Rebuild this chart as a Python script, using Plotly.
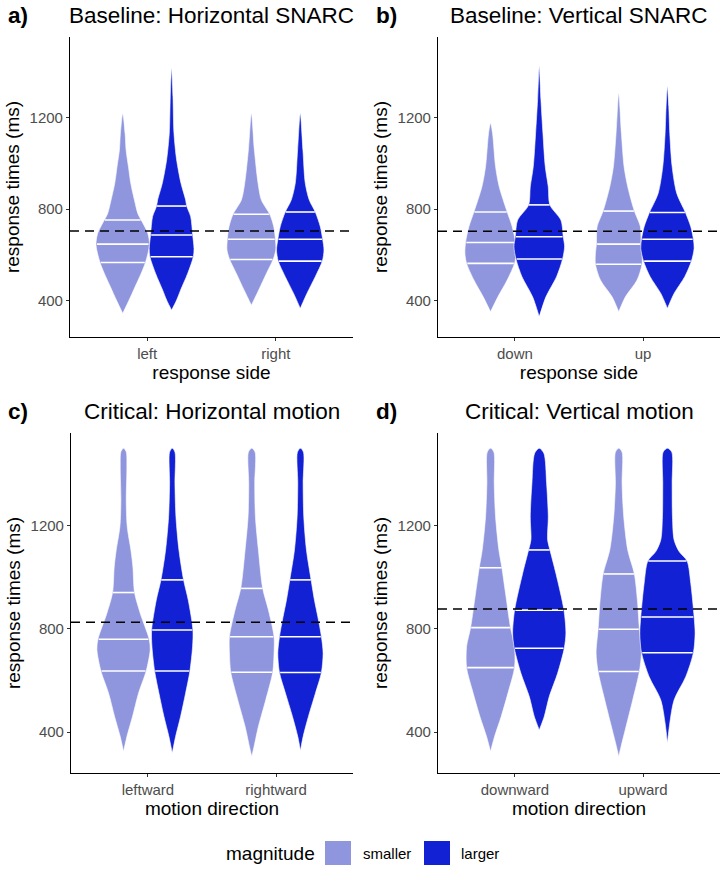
import numpy as np
import plotly.graph_objects as go

# ---------------- data ----------------
panel_titles = ["Baseline: Horizontal SNARC", "Baseline: Vertical SNARC",
                "Critical: Horizontal motion", "Critical: Vertical motion"]
panel_letters = ["a)", "b)", "c)", "d)"]
x_tick_labels = [["left", "right"], ["down", "up"],
                 ["leftward", "rightward"], ["downward", "upward"]]
x_titles = ["response side", "response side", "motion direction", "motion direction"]
y_title = "response times (ms)"
y_ticks = [400, 800, 1200]
reference_rt = [704, 703, 826, 877]
magnitudes = ["smaller", "larger"]

# violin outlines: response time (ms) and relative density (half width)
a1_small_rt = [1217, 1130, 1057, 985, 912, 839, 781, 752, 694, 643, 567, 519, 461, 403, 345]
a1_small_dn = [0, 7, 10, 17, 24, 35, 45, 55, 75, 80, 68, 55, 37, 19, 0]
a1_large_rt = [1414, 1290, 1130, 1014, 912, 839, 813, 767, 687, 628, 592, 519, 447, 403, 359]
a1_large_dn = [0, 4, 7, 15, 28, 42, 45, 57, 63, 67, 65, 48, 27, 15, 0]
a2_small_rt = [1217, 1057, 912, 839, 777, 723, 668, 621, 580, 519, 447, 381]
a2_small_dn = [0, 9, 20, 30, 55, 67, 72, 73, 65, 45, 22, 0]
a2_large_rt = [1217, 1057, 912, 839, 787, 723, 668, 621, 573, 505, 432, 367]
a2_large_dn = [0, 8, 15, 27, 45, 60, 67, 71, 66, 45, 20, 0]

b1_small_rt = [1174, 1130, 985, 897, 787, 723, 655, 607, 563, 490, 417, 352]
b1_small_dn = [0, 6, 15, 26, 50, 65, 75, 77, 72, 50, 22, 0]
b1_large_rt = [1421, 1276, 1130, 985, 897, 817, 752, 679, 636, 582, 505, 417, 330]
b1_large_dn = [0, 5, 11, 18, 27, 32, 65, 72, 76, 70, 52, 20, 0]
b2_small_rt = [1305, 1130, 985, 897, 791, 723, 647, 607, 559, 490, 417, 352]
b2_small_dn = [0, 8, 16, 27, 47, 65, 67, 70, 70, 55, 20, 0]
b2_large_rt = [1334, 1247, 1130, 985, 868, 785, 723, 668, 628, 573, 505, 432, 367]
b2_large_dn = [0, 4, 7, 14, 28, 54, 70, 78, 80, 72, 52, 20, 0]

c1_small_rt = [1500, 1486, 1428, 1299, 1196, 1106, 1041, 941, 861, 760, 719, 637, 551, 461, 383, 325]
c1_small_dn = [0, 8, 10, 8, 11, 22, 28, 33, 50, 77, 80, 68, 45, 27, 10, 0]
c1_large_rt = [1500, 1485, 1364, 1235, 1106, 990, 912, 796, 732, 637, 551, 461, 383, 319]
c1_large_dn = [0, 8, 8, 11, 20, 34, 48, 62, 61, 53, 40, 25, 10, 0]
c2_small_rt = [1500, 1485, 1364, 1235, 1106, 957, 874, 770, 706, 632, 525, 422, 345, 306]
c2_small_dn = [0, 10, 9, 11, 20, 33, 50, 67, 67, 63, 42, 20, 7, 0]
c2_large_rt = [1500, 1485, 1364, 1235, 1106, 990, 912, 848, 770, 706, 631, 551, 461, 383, 328]
c2_large_dn = [0, 9, 8, 10, 18, 32, 42, 52, 63, 68, 63, 45, 24, 8, 0]

d1_small_rt = [1500, 1485, 1364, 1235, 1106, 1037, 938, 805, 732, 650, 564, 461, 383, 325]
d1_small_dn = [0, 10, 11, 15, 25, 34, 45, 60, 72, 72, 55, 32, 12, 0]
d1_large_rt = [1500, 1480, 1364, 1235, 1145, 1106, 1015, 874, 783, 725, 628, 538, 461, 409]
d1_large_dn = [0, 14, 22, 27, 25, 32, 50, 74, 80, 75, 55, 30, 15, 0]
d2_small_rt = [1500, 1485, 1364, 1235, 1106, 1013, 912, 799, 706, 635, 525, 422, 345, 306]
d2_small_dn = [0, 10, 10, 15, 27, 47, 56, 62, 68, 62, 42, 22, 7, 0]
d2_large_rt = [1500, 1485, 1364, 1235, 1145, 1100, 1063, 977, 848, 783, 708, 615, 525, 435, 357]
d2_large_dn = [0, 13, 14, 15, 20, 35, 59, 70, 80, 83, 78, 55, 20, 7, 0]

# quartiles (25%, 50%, 75%) per violin
a1_small_q = [567, 647, 752]; a1_large_q = [592, 687, 813]
a2_small_q = [580, 668, 777]; a2_large_q = [573, 668, 787]
b1_small_q = [563, 654, 787]; b1_large_q = [582, 679, 818]
b2_small_q = [559, 647, 791]; b2_large_q = [573, 668, 785]
c1_small_q = [637, 760, 941]; c1_large_q = [637, 796, 990]
c2_small_q = [632, 770, 957]; c2_large_q = [631, 770, 990]
d1_small_q = [650, 805, 1037]; d1_large_q = [725, 873, 1106]
d2_small_q = [635, 799, 1013]; d2_large_q = [708, 846, 1063]

# ---------------- assemble ----------------
violins = [
    (0, 1, 0, a1_small_rt, a1_small_dn, a1_small_q), (0, 1, 1, a1_large_rt, a1_large_dn, a1_large_q),
    (0, 2, 0, a2_small_rt, a2_small_dn, a2_small_q), (0, 2, 1, a2_large_rt, a2_large_dn, a2_large_q),
    (1, 1, 0, b1_small_rt, b1_small_dn, b1_small_q), (1, 1, 1, b1_large_rt, b1_large_dn, b1_large_q),
    (1, 2, 0, b2_small_rt, b2_small_dn, b2_small_q), (1, 2, 1, b2_large_rt, b2_large_dn, b2_large_q),
    (2, 1, 0, c1_small_rt, c1_small_dn, c1_small_q), (2, 1, 1, c1_large_rt, c1_large_dn, c1_large_q),
    (2, 2, 0, c2_small_rt, c2_small_dn, c2_small_q), (2, 2, 1, c2_large_rt, c2_large_dn, c2_large_q),
    (3, 1, 0, d1_small_rt, d1_small_dn, d1_small_q), (3, 1, 1, d1_large_rt, d1_large_dn, d1_large_q),
    (3, 2, 0, d2_small_rt, d2_small_dn, d2_small_q), (3, 2, 1, d2_large_rt, d2_large_dn, d2_large_q),
]

COLORS = ["#8F96DE", "#1121D3"]
SCALE = 1 / 385.0
DODGE = 0.19
W, H = 724, 872
FONT = "Liberation Sans, Arial, sans-serif"

# panel pixel boxes (left, right, top, bottom)
boxes = [(70, 353, 37, 337), (438, 720, 37, 337), (71, 353, 433, 773), (438, 720, 433, 773)]
yranges = [[242, 1550], [242, 1550], [242, 1559], [242, 1559]]

fig = go.Figure()


def axn(i):
    return "" if i == 0 else str(i + 1)


for (p, g, m, rt, dn, q) in violins:
    rt = np.array(rt, float)
    hw = np.array(dn, float) * SCALE
    c = g + (DODGE if m == 1 else -DODGE)
    xs = list(c + hw) + list((c - hw)[::-1])
    ys = list(rt) + list(rt[::-1])
    fig.add_trace(go.Scatter(
        x=xs, y=ys, mode="lines", fill="toself", fillcolor=COLORS[m],
        line=dict(color="white", width=0.6, shape="spline", smoothing=0.8),
        xaxis="x" + axn(p), yaxis="y" + axn(p), showlegend=False, hoverinfo="skip"))
    order = np.argsort(rt)
    for qv in q:
        w = float(np.interp(qv, rt[order], hw[order])) * 0.97
        fig.add_trace(go.Scatter(
            x=[c - w, c + w], y=[qv, qv], mode="lines",
            line=dict(color="white", width=1.6),
            xaxis="x" + axn(p), yaxis="y" + axn(p), showlegend=False, hoverinfo="skip"))

for p in range(4):
    fig.add_trace(go.Scatter(
        x=[0.4, 2.6], y=[reference_rt[p]] * 2, mode="lines",
        line=dict(color="black", width=1.4, dash="9px,6px"),
        xaxis="x" + axn(p), yaxis="y" + axn(p), showlegend=False, hoverinfo="skip"))

layout = dict(width=W, height=H, margin=dict(l=0, r=0, t=0, b=0),
              plot_bgcolor="white", paper_bgcolor="white",
              font=dict(family=FONT, color="black"), showlegend=False)

annotations = []
shapes = []
for p in range(4):
    l, r, t, b = boxes[p]
    xd = [l / W, r / W]
    yd = [1 - b / H, 1 - t / H]
    layout["xaxis" + axn(p)] = dict(
        domain=xd, range=[0.4, 2.6], anchor="y" + axn(p),
        tickvals=[1, 2], ticktext=x_tick_labels[p],
        showline=True, linecolor="black", linewidth=1.1,
        ticks="outside", ticklen=3, tickcolor="#333333", tickwidth=1,
        tickfont=dict(size=15, color="#4D4D4D", family=FONT),
        showgrid=False, zeroline=False,
        title=dict(text=x_titles[p], font=dict(size=19, color="black", family=FONT), standoff=1))
    layout["yaxis" + axn(p)] = dict(
        domain=yd, range=yranges[p], anchor="x" + axn(p),
        tickvals=y_ticks,
        showline=True, linecolor="black", linewidth=1.1,
        ticks="outside", ticklen=3, tickcolor="#333333", tickwidth=1,
        tickfont=dict(size=15, color="#4D4D4D", family=FONT),
        showgrid=False, zeroline=False,
        title=dict(text=y_title, font=dict(size=19, color="black", family=FONT), standoff=4))
    ty = 15 if p < 2 else 412
    annotations.append(dict(text=panel_titles[p], x=(l + r) / 2 / W, y=1 - ty / H,
                            xref="paper", yref="paper", xanchor="center", yanchor="middle",
                            showarrow=False, font=dict(size=22.5, color="black", family=FONT)))
    lx = 6 if p % 2 == 0 else 374
    annotations.append(dict(text="<b>" + panel_letters[p] + "</b>", x=lx / W, y=1 - ty / H,
                            xref="paper", yref="paper", xanchor="left", yanchor="middle",
                            showarrow=False, font=dict(size=22.5, color="black", family=FONT)))

# legend (drawn manually, bottom centre)
ly = 853
annotations.append(dict(text="magnitude", x=224 / W, y=1 - ly / H, xref="paper", yref="paper",
                        xanchor="left", yanchor="middle", showarrow=False,
                        font=dict(size=19, color="black", family=FONT)))
sw = [(325, 351), (424, 450)]
txt_x = [361, 459]
for m in range(2):
    shapes.append(dict(type="rect", xref="paper", yref="paper",
                       x0=sw[m][0] / W, x1=sw[m][1] / W, y0=1 - 865 / H, y1=1 - 841 / H,
                       fillcolor=COLORS[m], line=dict(width=0)))
    annotations.append(dict(text=magnitudes[m], x=txt_x[m] / W, y=1 - ly / H, xref="paper", yref="paper",
                            xanchor="left", yanchor="middle", showarrow=False,
                            font=dict(size=15, color="black", family=FONT)))

layout["annotations"] = annotations
layout["shapes"] = shapes
fig.update_layout(**layout)
fig.write_html("out.html")
